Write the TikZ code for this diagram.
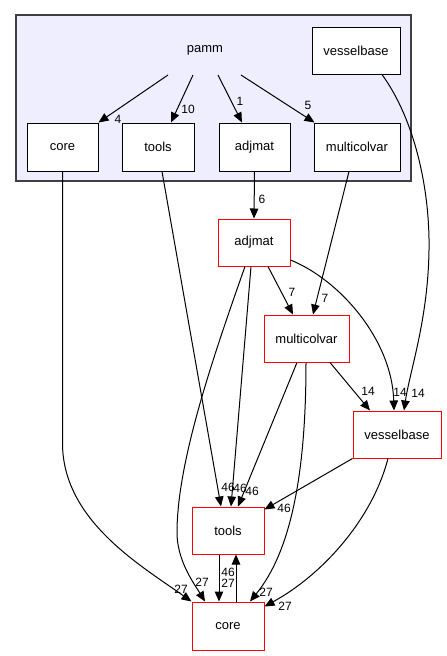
\documentclass[tikz,border=0pt]{standalone}
\usepackage{fontspec}
\setmainfont{Liberation Sans}
\usetikzlibrary{arrows.meta}
\definecolor{clfill}{HTML}{EEEEFF}
\definecolor{clborder}{HTML}{404040}
\definecolor{redb}{HTML}{FF0000}
\begin{document}
\begin{tikzpicture}[x=1pt,y=-1pt,
  every node/.style={font=\fontsize{13}{15}\selectfont},
  topbox/.style={draw=black,fill=white,line width=1pt,inner sep=0pt},
  redbox/.style={draw=redb,fill=white,line width=1pt,inner sep=0pt},
  edge/.style={draw=black,line width=1pt,-{Triangle[length=10pt,width=8.5pt]}},
  elabel/.style={inner sep=0pt,anchor=center,font=\fontsize{12}{14}\selectfont}]
\useasboundingbox (0,0) rectangle (447,656);
% cluster
\draw[fill=clfill,draw=clborder,line width=1.2pt] (16,15) rectangle (411,181);
\node (pamm) at (205,50) {pamm};
\coordinate (p1) at (168,75);
\coordinate (p2) at (193,75);
\coordinate (p3) at (218,75);
\coordinate (p4) at (241,75);
% top nodes
\node[topbox,minimum width=88pt,minimum height=47pt] (vbT) at (356,50.5) {vesselbase};
\node[topbox,minimum width=71pt,minimum height=48pt] (coreT) at (62.5,147) {core};
\node[topbox,minimum width=72pt,minimum height=48pt] (toolsT) at (158,147) {tools};
\node[topbox,minimum width=71pt,minimum height=48pt] (adjT) at (254.5,147) {adjmat};
\node[topbox,minimum width=86pt,minimum height=48pt] (mcT) at (357,147) {multicolvar};
% red nodes
\node[redbox,minimum width=72pt,minimum height=47pt] (adjR) at (254,242.5) {adjmat};
\node[redbox,minimum width=85pt,minimum height=47pt] (mcR) at (306.5,338.5) {multicolvar};
\node[redbox,minimum width=88pt,minimum height=47pt] (vbR) at (397,434.5) {vesselbase};
\node[redbox,minimum width=72pt,minimum height=47pt] (toolsR) at (228,530.5) {tools};
\node[redbox,minimum width=72pt,minimum height=48pt] (coreR) at (228,626) {core};
% edges from pamm
\draw[edge] (p1) -- (coreT.north east);
\node[elabel] (l1) at (118,119) {4};
\draw[edge] (p2) -- ([xshift=13]toolsT.north);
\node[elabel] (l2) at (188,109) {10};
\draw[edge] (p3) -- ([xshift=-12.5]adjT.north);
\node[elabel] (l3) at (240,101) {1};
\draw[edge] (p4) -- ([xshift=1]mcT.north west);
\node[elabel] (l4) at (308,105) {5};
% vesselbase top -> vesselbase red
\draw[edge] ([xshift=26]vbT.south) .. controls (415,120) and (430,190) .. (429,250)
  .. controls (428,320) and (410,370) .. ([xshift=7]vbR.north);
\node[elabel] (l5) at (418,393) {14};
% core top -> core red
\draw[edge] (coreT.south) -- (62.5,443) .. controls (62.5,520) and (140,565) .. (coreR.north west);
\node[elabel] (l6) at (181,589) {27};
% tools top -> tools red
\draw[edge] ([xshift=4]toolsT.south) -- ([xshift=-7]toolsR.north);
\node[elabel] (l7) at (228,487) {46};
% adjmat top -> adjmat red
\draw[edge] (adjT.south) -- (adjR.north);
\node[elabel] (l8) at (262,199) {6};
% multicolvar top -> multicolvar red
\draw[edge] ([xshift=-8]mcT.south) -- ([xshift=6.5]mcR.north);
\node[elabel] (l9) at (325,298) {7};
% adjmat red -> multicolvar red
\draw[edge] ([xshift=14]adjR.south) -- ([xshift=-13.5]mcR.north);
\node[elabel] (l10) at (292,292) {7};
% adjmat red -> vesselbase red
\draw[edge] ([yshift=-17.5]adjR.east) .. controls (340,280) and (392,340) .. ([xshift=-3]vbR.north);
\node[elabel] (l11) at (400,392) {14};
% adjmat red -> tools red
\draw[edge] ([xshift=-3]adjR.south) -- ([xshift=3]toolsR.north);
\node[elabel] (l12) at (240,488) {46};
% adjmat red -> core red
\draw[edge] ([xshift=-9]adjR.south) .. controls (212,360) and (178,460) .. (177,530)
  .. controls (176,560) and (195,585) .. ([xshift=-23]coreR.north);
\node[elabel] (l13) at (202,582) {27};
% multicolvar red -> tools red
\draw[edge] ([xshift=-9.5]mcR.south) -- ([xshift=10]toolsR.north);
\node[elabel] (l14) at (252,491) {46};
% multicolvar red -> core red
\draw[edge] ([xshift=-0.5]mcR.south) .. controls (306,470) and (292,550) .. ([xshift=22]coreR.north);
\node[elabel] (l15) at (266,592) {27};
% multicolvar red -> vesselbase red
\draw[edge] ([xshift=23.5]mcR.south) -- ([xshift=-27]vbR.north);
\node[elabel] (l16) at (368,391) {14};
% vesselbase red -> tools red
\draw[edge] (vbR.south west) -- ([yshift=-3]toolsR.north east);
\node[elabel] (l17) at (284,508) {46};
% vesselbase red -> core red
\draw[edge] ([xshift=-9]vbR.south) .. controls (372,520) and (322,575) .. ([yshift=-5]coreR.north east);
\node[elabel] (l18) at (285,606) {27};
% tools red -> core red
\draw[edge] ([xshift=-9]toolsR.south) -- ([xshift=-9]coreR.north);
\node[elabel] (l19) at (228,583) {27};
% core red -> tools red
\draw[edge] ([xshift=8]coreR.north) -- ([xshift=8]toolsR.south);
\node[elabel] (l20) at (228,572) {46};
\end{tikzpicture}
\end{document}
